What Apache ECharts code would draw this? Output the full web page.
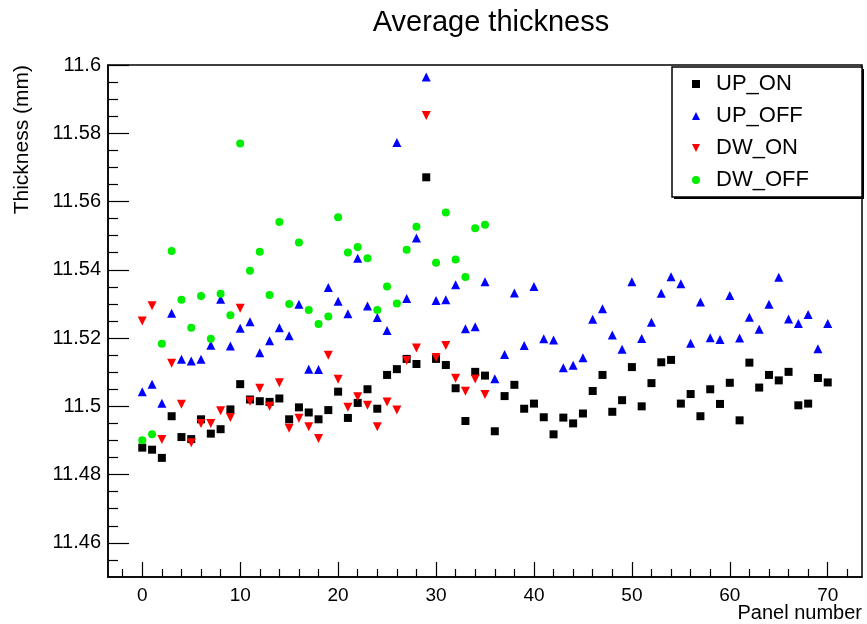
<!DOCTYPE html>
<html>
<head>
<meta charset="utf-8">
<script src="https://cdn.jsdelivr.net/npm/echarts@6/dist/echarts.min.js"></script>
<style>
  html, body { margin: 0; padding: 0; background: #fff; }
  #chart { width: 867px; height: 624px; }
</style>
</head>
<body>
<div id="chart"></div>
<script>
const panels = Array.from({ length: 71 }, (_, i) => i)

const upOn = [
  11.4879, 11.4873, 11.4849, 11.4971, 11.491, 11.4904, 11.4962, 11.492, 11.4933, 11.4991,
  11.5065, 11.502, 11.5015, 11.5013, 11.5023, 11.4962, 11.4997, 11.4982, 11.4962, 11.4989,
  11.5043, 11.4966, 11.501, 11.505, 11.4993, 11.5092, 11.5109, 11.5139, 11.5124, 11.5671,
  11.5139, 11.5121, 11.5053, 11.4957, 11.5101, 11.509, 11.4927, 11.503, 11.5063, 11.4993,
  11.5008, 11.4968, 11.4918, 11.4967, 11.495, 11.4979, 11.5045, 11.5092, 11.4984, 11.5018,
  11.5115, 11.5, 11.5068, 11.5129, 11.5136, 11.5008, 11.5036, 11.4971, 11.505, 11.5007,
  11.5069, 11.4959, 11.5128, 11.5055, 11.5092, 11.5076, 11.5101, 11.5003, 11.5008, 11.5083,
  11.507,
]
const upOff = [
  11.5043, 11.5065, 11.5009, 11.5273, 11.5138, 11.5133, 11.5138, 11.5179, 11.5314, 11.5177,
  11.5229, 11.5248, 11.5157, 11.5192, 11.523, 11.5207, 11.5299, 11.5109, 11.5108, 11.5348,
  11.5308, 11.5271, 11.5434, 11.5294, 11.526, 11.5222, 11.5773, 11.5316, 11.5493, 11.5965,
  11.531, 11.5312, 11.5356, 11.5227, 11.5233, 11.5365, 11.5081, 11.5152, 11.5332, 11.5178,
  11.5351, 11.5198, 11.5194, 11.5113, 11.512, 11.5142, 11.5255, 11.5286, 11.5209, 11.5167,
  11.5365, 11.5199, 11.5246, 11.5331, 11.538, 11.5359, 11.5185, 11.5306, 11.5201, 11.5196,
  11.5325, 11.52, 11.5261, 11.5226, 11.5299, 11.5378, 11.5256, 11.5243, 11.5269, 11.5169,
  11.5243,
]
const dwOn = [
  11.525, 11.5295, 11.4903, 11.5126, 11.5006, 11.4893, 11.495, 11.495, 11.4987, 11.4967,
  11.5287, 11.5015, 11.5053, 11.5, 11.5069, 11.4936, 11.4965, 11.494, 11.4906, 11.515,
  11.5079, 11.4997, 11.5028, 11.5003, 11.494, 11.5013, 11.4989, 11.5134, 11.5171, 11.5852,
  11.5143, 11.5178, 11.5082, 11.5044, 11.508, 11.5035,
]
const dwOff = [
  11.4901, 11.4918, 11.5183, 11.5455, 11.5312, 11.523, 11.5323, 11.5198, 11.533, 11.5267,
  11.577, 11.5397, 11.5453, 11.5326, 11.554, 11.53, 11.548, 11.5282, 11.5241, 11.5263,
  11.5554, 11.5451, 11.5467, 11.5434, 11.5282, 11.5351, 11.5301, 11.5459, 11.5526, null,
  11.5421, 11.5568, 11.543, 11.5379, 11.5522, 11.5532,
]

const xTicks = [0, 10, 20, 30, 40, 50, 60, 70]
const yTicks = [11.46, 11.48, 11.5, 11.52, 11.54, 11.56, 11.58, 11.6]

const xMinor = []
for (let v = -2; v <= 72; v += 2) if (v % 10 !== 0) xMinor.push(v)
const yMinor = []
for (let k = 1; k < 30; k++) if (k % 4 !== 2) yMinor.push(+(11.45 + k * 0.005).toFixed(3))

const font = "'Liberation Sans', Arial, sans-serif"
const pts = (ys) => ys.map((y, i) => [panels[i], y]).filter((p) => p[1] != null)

const chart = echarts.init(document.getElementById('chart'), null, { renderer: 'canvas' })

const axisBase = { type: 'value', splitLine: { show: false } }
const tickLine = { color: '#000', width: 1.2 }

chart.setOption({
  animation: false,
  backgroundColor: '#fff',
  textStyle: { fontFamily: font },
  title: {
    text: 'Average thickness',
    left: 486,
    textAlign: 'center',
    top: 3,
    textStyle: { fontFamily: font, fontSize: 29, fontWeight: 'normal', color: '#000' },
  },
  grid: {
    left: 108, right: 5, top: 65, bottom: 47,
    show: true, borderColor: '#000', borderWidth: 1.5, backgroundColor: '#fff',
  },
  xAxis: [
    {
      ...axisBase, min: -3.5, max: 73.5,
      axisLine: { onZero: false, lineStyle: { color: '#000', width: 1.5 } },
      axisTick: { inside: true, length: 15, customValues: xTicks, lineStyle: tickLine },
      axisLabel: { customValues: xTicks, color: '#000', fontSize: 19, fontFamily: font, margin: 9 },
    },
    {
      ...axisBase, min: -3.5, max: 73.5, position: 'bottom',
      axisLine: { show: false, onZero: false },
      axisTick: { inside: true, length: 8, customValues: xMinor, lineStyle: tickLine },
      axisLabel: { show: false },
    },
  ],
  yAxis: [
    {
      ...axisBase, min: 11.45, max: 11.6,
      axisLine: { onZero: false, lineStyle: { color: '#000', width: 1.5 } },
      axisTick: { inside: true, length: 21, customValues: yTicks, lineStyle: tickLine },
      axisLabel: { customValues: yTicks, color: '#000', fontSize: 20, fontFamily: font, margin: 7 },
    },
    {
      ...axisBase, min: 11.45, max: 11.6, position: 'left',
      axisLine: { show: false, onZero: false },
      axisTick: { inside: true, length: 10, customValues: yMinor, lineStyle: tickLine },
      axisLabel: { show: false },
    },
  ],
  legend: {
    orient: 'vertical',
    left: 692,
    top: 68,
    padding: 0,
    itemGap: 0,
    itemWidth: 8,
    itemHeight: 8,
    z: 20,
    textStyle: { fontFamily: font, fontSize: 22, color: '#000', lineHeight: 32, padding: [0, 0, 0, 11] },
    data: [
      { name: 'UP_ON' },
      { name: 'UP_OFF' },
      { name: 'DW_ON', icon: 'path://M0,0L10,0L5,10Z' },
      { name: 'DW_OFF' },
    ],
  },
  graphic: [
    { type: 'rect', z: 15, shape: { x: 674, y: 69, width: 190, height: 130 }, style: { fill: '#000' } },
    { type: 'rect', z: 16, shape: { x: 672, y: 67, width: 190, height: 130 }, style: { fill: '#fff', stroke: '#000', lineWidth: 1.5 } },
    {
      type: 'text', x: 22, y: 65, rotation: Math.PI / 2,
      style: { text: 'Thickness (mm)', font: '21px ' + font, fill: '#000', align: 'right', verticalAlign: 'middle' },
    },
    {
      type: 'text', x: 862, y: 613,
      style: { text: 'Panel number', font: '20px ' + font, fill: '#000', align: 'right', verticalAlign: 'middle' },
    },
  ],
  series: [
    { name: 'UP_ON', type: 'scatter', symbol: 'rect', symbolSize: 8, data: pts(upOn), itemStyle: { color: '#000', opacity: 1 } },
    { name: 'UP_OFF', type: 'scatter', symbol: 'triangle', symbolSize: 9, data: pts(upOff), itemStyle: { color: '#0000ff', opacity: 1 } },
    { name: 'DW_ON', type: 'scatter', symbol: 'triangle', symbolRotate: 180, symbolSize: 9, data: pts(dwOn), itemStyle: { color: '#ff0000', opacity: 1 } },
    { name: 'DW_OFF', type: 'scatter', symbol: 'circle', symbolSize: 8, data: pts(dwOff), itemStyle: { color: '#00ee00', opacity: 1 } },
  ],
})

window.addEventListener('resize', () => chart.resize())
</script>
</body>
</html>
